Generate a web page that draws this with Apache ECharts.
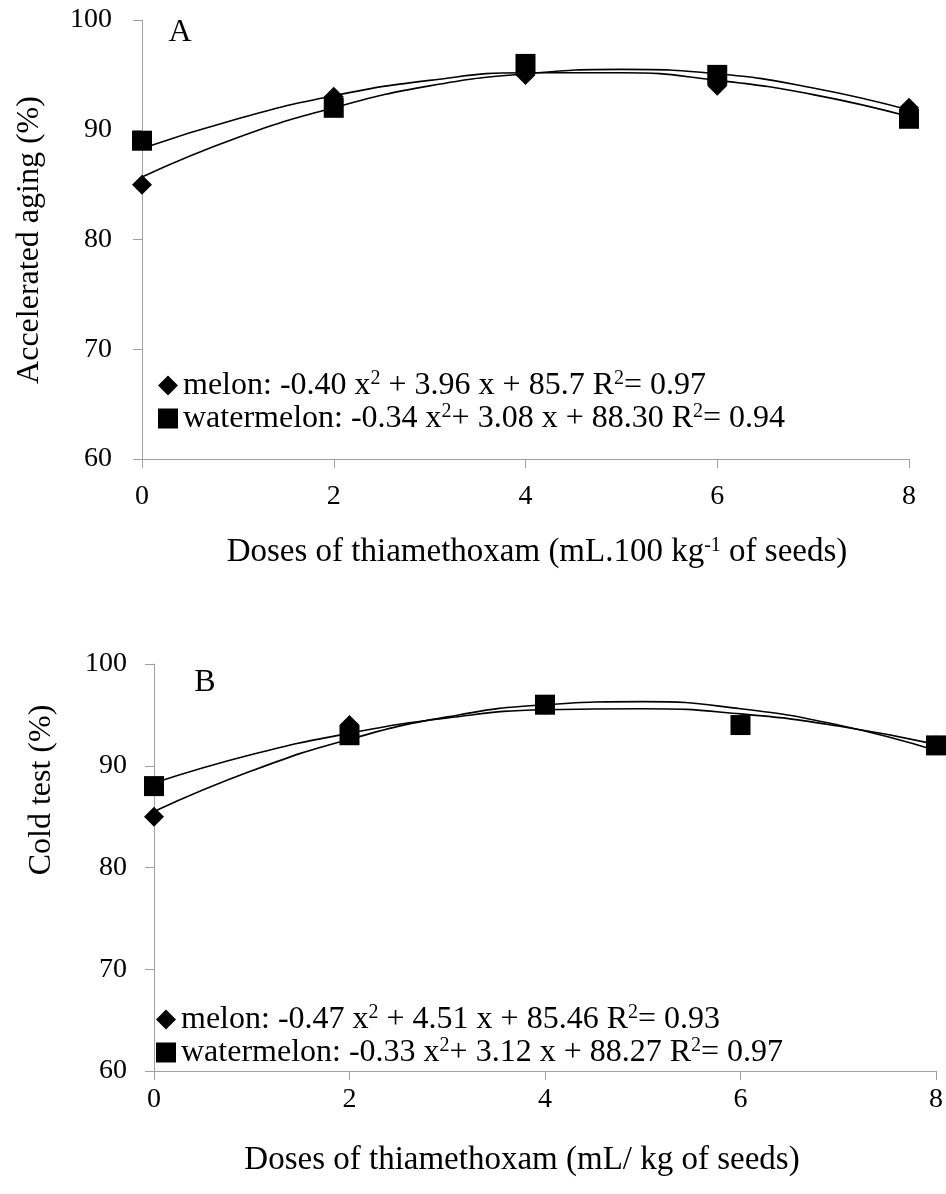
<!DOCTYPE html>
<html>
<head>
<meta charset="utf-8">
<script src="https://cdn.jsdelivr.net/npm/echarts@6/dist/echarts.min.js"></script>
<style>
  html, body { margin: 0; padding: 0; background: #ffffff; }
  #chart { width: 946px; height: 1194px; }
</style>
</head>
<body>
<div id="chart"></div>
<script>
// doses (x) and observed points
const doses = [0, 2, 4, 6, 8];
const melonAging = [85, 93, 95, 94, 92];
const watermelonAging = [89, 92, 96, 95, 91];
const melonCold = [85, 94, 96, 94, 92];
const watermelonCold = [88, 93, 96, 94, 92];

// trend curves at each unit dose
const curveDoses = [0, 1, 2, 3, 4, 5, 6, 7, 8];
const melonAgingCurve = [85.7, 89.3, 92.0, 94.0, 95.1, 95.5, 95.1, 93.8, 91.8];
const watermelonAgingCurve = [88.3, 91.0, 93.1, 94.5, 95.2, 95.2, 94.5, 93.2, 91.2];
const melonColdCurve = [85.5, 89.5, 92.6, 94.8, 96.0, 96.3, 95.6, 94.0, 91.5];
const watermelonColdCurve = [88.3, 91.1, 93.2, 94.7, 95.5, 95.6, 95.1, 93.9, 92.1];

// axis ticks
const xTicks = [0, 2, 4, 6, 8];
const yTicks = [60, 70, 80, 90, 100];

// equation labels
const eqAging = {
  "melon A": "melon: -0.40 x{sup|2} + 3.96 x + 85.7 R{sup|2}= 0.97",
  "watermelon A": "watermelon: -0.34 x{sup|2}+ 3.08 x + 88.30 R{sup|2}= 0.94"
};
const eqCold = {
  "melon B": "melon: -0.47 x{sup|2} + 4.51 x + 85.46 R{sup|2}= 0.93",
  "watermelon B": "watermelon: -0.33 x{sup|2}+ 3.12 x + 88.27 R{sup|2}= 0.97"
};

const font = "Liberation Serif, Times New Roman, serif";
const axisGray = "#a0a0a0";

const pairs = (xs, ys) => xs.map((x, i) => [x, ys[i]]);

const xAxisBase = (idx, margin) => ({
  gridIndex: idx,
  type: "value",
  min: xTicks[0],
  max: xTicks[xTicks.length - 1],
  interval: 2,
  splitLine: { show: false },
  axisLine: { onZero: false, lineStyle: { color: axisGray, width: 1 } },
  axisTick: { length: 9, lineStyle: { color: axisGray } },
  axisLabel: { margin: margin, color: "#000", fontFamily: font, fontSize: 28 }
});
const yAxisBase = (idx, margin) => ({
  gridIndex: idx,
  type: "value",
  min: yTicks[0],
  max: yTicks[yTicks.length - 1],
  interval: 10,
  splitLine: { show: false },
  axisLine: { show: true, lineStyle: { color: axisGray, width: 1 } },
  axisTick: { show: true, length: 9, lineStyle: { color: axisGray } },
  axisLabel: { margin: margin, color: "#000", fontFamily: font, fontSize: 28 }
});

const curve = (name, idx, ys) => ({
  name: name,
  type: "line",
  xAxisIndex: idx,
  yAxisIndex: idx,
  data: pairs(curveDoses, ys),
  smooth: 0.5,
  symbol: "none",
  lineStyle: { color: "#000", width: 1.6 },
  z: 2
});
const points = (name, idx, ys, symbol, size) => ({
  name: name,
  type: "scatter",
  xAxisIndex: idx,
  yAxisIndex: idx,
  data: pairs(doses, ys),
  symbol: symbol,
  symbolSize: size,
  itemStyle: { color: "#000", opacity: 1 },
  z: 3
});

const legendBase = (data, map, left, top) => ({
  data: data,
  orient: "vertical",
  left: left,
  top: top,
  itemWidth: 20,
  itemHeight: 20,
  itemGap: 0,
  formatter: name => map[name],
  textStyle: {
    fontFamily: font,
    fontSize: 32,
    color: "#000",
    lineHeight: 33,
    rich: {
      sup: { fontFamily: font, fontSize: 20, color: "#000", verticalAlign: "top", lineHeight: 33 }
    }
  }
});

const titleText = (text, x, y, rotation, size) => ({
  type: "text",
  x: x,
  y: y,
  rotation: rotation || 0,
  style: {
    text: text,
    fill: "#000",
    font: (size || 32) + "px " + font,
    textAlign: "center",
    textVerticalAlign: "middle",
    rich: {
      sup: { fontSize: 20, fontFamily: font, fill: "#000", verticalAlign: "top" }
    }
  }
});

const myChart = echarts.init(document.getElementById("chart"), null, { renderer: "canvas" });
const option = {
  backgroundColor: "#ffffff",
  animation: false,
  grid: [
    { left: 142, top: 20, width: 767, height: 439 },
    { left: 154, top: 664, width: 784, height: 407 }
  ],
  xAxis: [xAxisBase(0, 24), xAxisBase(1, 15)],
  yAxis: [yAxisBase(0, 30), yAxisBase(1, 27)],
  legend: [
    legendBase(["melon A", "watermelon A"], eqAging, 153, 364),
    legendBase(["melon B", "watermelon B"], eqCold, 151, 998)
  ],
  graphic: [
    titleText("A", 180, 33),
    titleText("B", 205, 683),
    titleText("Accelerated aging (%)", 30, 240, Math.PI / 2),
    titleText("Cold test (%)", 42, 790, Math.PI / 2),
    titleText("Doses of thiamethoxam (mL.100 kg{sup|-1} of seeds)", 537, 552, 0, 33),
    titleText("Doses of thiamethoxam (mL/ kg of seeds)", 522, 1160, 0, 33)
  ],
  series: [
    curve("melon A fit", 0, melonAgingCurve),
    curve("watermelon A fit", 0, watermelonAgingCurve),
    points("melon A", 0, melonAging, "diamond", 20),
    points("watermelon A", 0, watermelonAging, "rect", 20),
    curve("melon B fit", 1, melonColdCurve),
    curve("watermelon B fit", 1, watermelonColdCurve),
    points("melon B", 1, melonCold, "diamond", 20),
    points("watermelon B", 1, watermelonCold, "rect", 20)
  ]
};
myChart.setOption(option);
</script>
</body>
</html>
